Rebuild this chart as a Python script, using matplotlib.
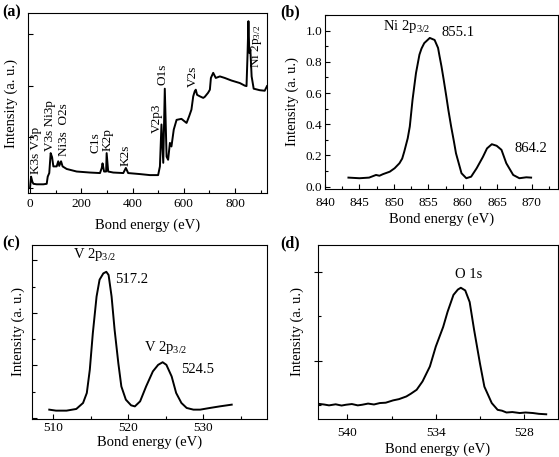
import matplotlib
matplotlib.use("Agg")
import matplotlib.pyplot as plt
from matplotlib.ticker import MultipleLocator, NullFormatter

plt.rcParams['font.family'] = ['Liberation Serif', 'DejaVu Serif']
plt.rcParams['mathtext.fontset'] = 'custom'
plt.rcParams['mathtext.rm'] = 'Liberation Serif'
plt.rcParams['mathtext.it'] = 'Liberation Serif'

# (a) survey spectrum
survey_energy = [0, 4, 9, 13, 26, 52, 65, 69, 75, 80.5, 86, 91, 104, 110, 114, 121, 127, 143, 182, 234,
                 273, 280, 283, 289, 297, 299, 305, 325, 364, 374, 383, 429, 468, 500, 507, 513, 520,
                 526, 533, 539, 546, 552, 561, 572, 591, 611, 621, 630, 637, 643, 647, 652, 663, 676,
                 682, 695, 702, 706, 715, 725, 741, 760, 786, 819, 838, 845, 849, 852.5, 856, 860,
                 865, 873, 897, 916, 925]
survey_int = [0.0, 0.22, 0.12, 0.08, 0.07, 0.07, 0.08, 0.22, 0.29, 0.68, 0.6, 0.42, 0.42, 0.52, 0.43, 0.52,
              0.42, 0.37, 0.32, 0.30, 0.29, 0.39, 0.48, 0.32, 0.32, 0.68, 0.32, 0.30, 0.29, 0.39, 0.29,
              0.27, 0.25, 0.25, 0.42, 1.24, 0.49, 1.94, 0.61, 0.55, 0.88, 0.81, 1.14, 1.33, 1.35, 1.27,
              1.40, 1.53, 1.79, 1.89, 1.92, 1.82, 1.79, 1.76, 1.78, 1.86, 1.92, 2.15, 2.25, 2.15, 2.18,
              2.15, 2.10, 2.05, 2.0, 1.99, 2.6, 3.26, 2.64, 2.71, 2.18, 1.94, 1.91, 1.90, 1.99]
survey_labels = ["K3s V3p", "V3s Ni3p", "Ni3s  O2s", "C1s", "K2p", "K2s", "V2p3", "O1s", "V2s",
                 r"Ni 2p$_{3/2}$"]
survey_label_x = [24, 78, 132, 257, 303, 373, 494, 517, 637, 884]
survey_label_y = [0.28, 0.72, 0.62, 0.68, 0.72, 0.42, 1.08, 2.02, 1.98, 2.35]

# (b) Ni 2p
ni_energy = [843.4, 845.0, 846.4, 847.4, 847.9, 848.4, 849.4, 850.1, 850.8, 851.2, 851.5, 852.0, 852.3,
             852.7, 853.0, 853.2, 853.7, 854.0, 854.4, 855.2, 855.9, 856.4, 856.6, 856.9, 857.2, 857.6,
             857.9, 858.3, 858.7, 859.0, 859.8, 860.5, 861.2, 862.0, 862.9, 863.5, 864.2, 864.9, 865.6,
             866.3, 867.3, 868.2, 869.2, 869.9]
ni_int = [0.058, 0.054, 0.058, 0.075, 0.07, 0.08, 0.096, 0.118, 0.15, 0.18, 0.225, 0.31, 0.385, 0.557,
          0.66, 0.728, 0.846, 0.885, 0.92, 0.953, 0.94, 0.889, 0.84, 0.77, 0.69, 0.578, 0.49, 0.385,
          0.29, 0.214, 0.086, 0.054, 0.064, 0.118, 0.19, 0.245, 0.272, 0.262, 0.236, 0.15, 0.075,
          0.054, 0.06, 0.058]

# (c) V 2p
v_energy = [509.5, 510.4, 511.8, 513.1, 514.0, 514.5, 514.9, 515.3, 515.8, 516.2, 516.7, 517.1, 517.4,
            517.8, 518.2, 518.7, 519.1, 519.7, 520.4, 520.9, 521.6, 522.4, 523.3, 524.0, 524.6, 525.1,
            525.8, 526.4, 527.1, 527.8, 528.7, 529.6, 530.9, 532.2, 533.8]
v_int = [0.158, 0.139, 0.139, 0.171, 0.285, 0.475, 0.918, 1.61, 2.31, 2.63, 2.75, 2.78, 2.72, 2.31,
         1.68, 1.04, 0.60, 0.348, 0.24, 0.22, 0.316, 0.60, 0.886, 1.01, 1.06, 1.01, 0.79, 0.475, 0.285,
         0.19, 0.158, 0.158, 0.19, 0.22, 0.253]

# (d) O 1s
o_energy = [542.05, 541.6, 541.25, 540.8, 540.4, 540.1, 539.7, 539.3, 539.0, 538.6, 538.2, 537.8,
            537.4, 536.9, 536.5, 536.0, 535.7, 535.3, 534.9, 534.4, 534.0, 533.5, 533.2, 532.8, 532.5,
            532.3, 532.0, 531.7, 531.4, 531.0, 530.7, 530.2, 529.8, 529.5, 529.2, 528.8, 528.3, 527.9,
            527.4, 527.0, 526.5]
o_int = [0.519, 0.51, 0.50, 0.512, 0.498, 0.507, 0.515, 0.50, 0.507, 0.52, 0.51, 0.526, 0.53, 0.556,
         0.57, 0.60, 0.63, 0.675, 0.769, 0.937, 1.16, 1.38, 1.55, 1.74, 1.80, 1.82, 1.79, 1.66, 1.35,
         0.97, 0.71, 0.526, 0.45, 0.44, 0.42, 0.425, 0.414, 0.42, 0.414, 0.405, 0.40]

fig = plt.figure(figsize=(5.59, 4.57), dpi=100)
LW = 1.4
TICK = 9.5
LAB = 10.5

def style(ax, pad):
    for s in ax.spines.values():
        s.set_linewidth(0.8)
    ax.tick_params(which='both', direction='in', width=0.8, labelsize=TICK, pad=pad)
    ax.tick_params(which='major', length=3.5)
    ax.tick_params(which='minor', length=2)
    ax.tick_params(axis='x', top=False)
    ax.tick_params(axis='y', right=False)

# (a)
axa = fig.add_axes([28/559, 1-193/457, 239/559, 180/457])
axa.plot(survey_energy, survey_int, color='black', lw=LW)
axa.set_xlim(-8, 925)
axa.set_ylim(-0.1, 3.42)
axa.xaxis.set_major_locator(MultipleLocator(200))
axa.xaxis.set_minor_locator(MultipleLocator(100))
axa.yaxis.set_major_locator(MultipleLocator(1))
axa.yaxis.set_major_formatter(NullFormatter())
style(axa, 3.5)
for lab, x, y in zip(survey_labels, survey_label_x, survey_label_y):
    axa.text(x, y, lab, rotation=90, ha='center', va='bottom', fontsize=9.5)
axa.set_xlabel('Bond energy (eV)', fontsize=LAB, labelpad=6)
axa.set_ylabel('Intensity (a. u.)', fontsize=LAB, labelpad=4)

# (b)
axb = fig.add_axes([325/559, 1-189/457, 233/559, 174/457])
axb.plot(ni_energy, ni_int, color='black', lw=LW)
axb.set_xlim(840, 873.8)
axb.set_ylim(-0.015, 1.1)
axb.xaxis.set_major_locator(MultipleLocator(5))
axb.xaxis.set_minor_locator(MultipleLocator(2.5))
axb.yaxis.set_major_locator(MultipleLocator(0.2))
axb.yaxis.set_minor_locator(MultipleLocator(0.1))
axb.yaxis.set_major_formatter(plt.FuncFormatter(lambda v, p: f"{v:.1f}"))
style(axb, 2)
axb.tick_params(axis='x', pad=5.5)
axb.text(851.8, 0.975, r"Ni 2p$_{3/2}$", ha='center', va='bottom', fontsize=LAB)
axb.text(856.9, 0.99, "855.1", ha='left', va='center', fontsize=LAB)
axb.text(867.5, 0.245, "864.2", ha='left', va='center', fontsize=LAB)
axb.set_xlabel('Bond energy (eV)', fontsize=LAB, labelpad=2.5)
axb.set_ylabel('Intensity (a. u.)', fontsize=LAB, labelpad=5)

# (c)
axc = fig.add_axes([32/559, 1-419/457, 235/559, 174/457])
axc.plot(v_energy, v_int, color='black', lw=LW)
axc.set_xlim(507.2, 538.5)
axc.set_ylim(-0.02, 3.29)
axc.xaxis.set_major_locator(MultipleLocator(10))
axc.xaxis.set_minor_locator(MultipleLocator(5))
axc.yaxis.set_major_locator(MultipleLocator(1))
axc.yaxis.set_minor_locator(MultipleLocator(0.5))
axc.yaxis.set_major_formatter(NullFormatter())
style(axc, 2.5)
axc.text(515.6, 2.95, r"V 2p$_{3/2}$", ha='center', va='bottom', fontsize=LAB)
axc.text(518.2, 2.64, "517.2", ha='left', va='center', fontsize=LAB)
axc.text(525.0, 1.18, r"V 2p$_{3/2}$", ha='center', va='bottom', fontsize=LAB)
axc.text(527.1, 0.92, "524.5", ha='left', va='center', fontsize=LAB)
axc.set_xlabel('Bond energy (eV)', fontsize=LAB, labelpad=1)
axc.set_ylabel('Intensity (a. u.)', fontsize=LAB, labelpad=2.5)

# (d)
axd = fig.add_axes([318/559, 1-419/457, 240/559, 174/457])
axd.plot(o_energy, o_int, color='black', lw=LW)
axd.set_xlim(542.0, 525.7)
axd.set_ylim(0.347, 2.30)
axd.xaxis.set_major_locator(MultipleLocator(6))
axd.xaxis.set_minor_locator(MultipleLocator(3))
axd.yaxis.set_major_locator(MultipleLocator(1))
axd.yaxis.set_minor_locator(MultipleLocator(0.5))
axd.yaxis.set_major_formatter(NullFormatter())
style(axd, 6)
axd.tick_params(axis='y', which='major', direction='inout', length=6)
axd.text(531.8, 1.90, "O 1s", ha='center', va='bottom', fontsize=LAB)
axd.set_xlabel('Bond energy (eV)', fontsize=LAB, labelpad=2)
axd.set_ylabel('Intensity (a. u.)', fontsize=LAB, labelpad=1)

for lab, x, y in [("(a)", 2, 12), ("(b)", 280, 12), ("(c)", 2, 243), ("(d)", 280, 243)]:
    fig.text(x/559, 1-y/457, lab, fontsize=11.5, fontweight='bold', ha='left', va='center')

fig.savefig('out.png', dpi=100)
